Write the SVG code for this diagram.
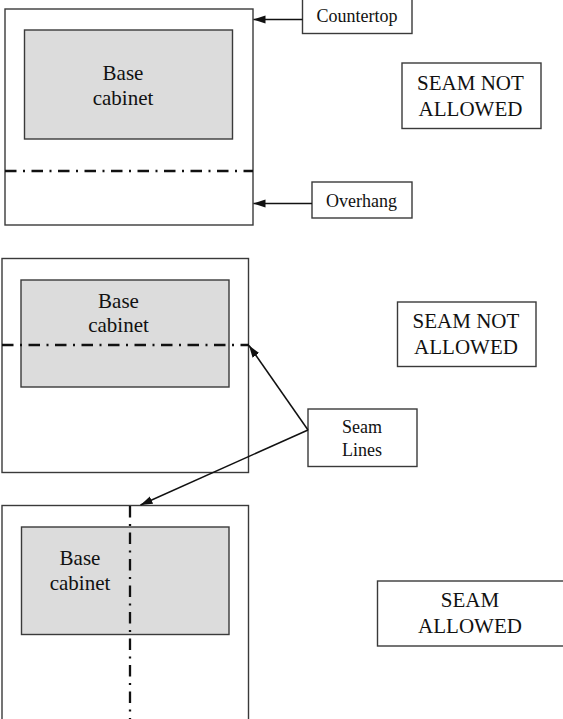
<svg xmlns="http://www.w3.org/2000/svg" width="563" height="719" viewBox="0 0 563 719">
<style>
.outer{fill:#fff;stroke:#3a3a3a;stroke-width:1.4}
.cab{fill:#dcdcdc;stroke:#3a3a3a;stroke-width:1.4}
.box{fill:#fff;stroke:#3a3a3a;stroke-width:1.4}
.seam{fill:none;stroke:#111;stroke-width:2.3;stroke-dasharray:11.5 6.5 2 6.5}
.conn{fill:none;stroke:#111;stroke-width:1.5}
text{font-family:"Liberation Serif","Times New Roman",serif;fill:#111;text-anchor:middle}
.big{font-size:21px}
.small{font-size:18px}
</style>
<defs>
<marker id="ah" markerWidth="13" markerHeight="9" refX="12" refY="4" orient="auto" markerUnits="userSpaceOnUse">
<path d="M0,0 L12,4 L0,8 z" fill="#111"/>
</marker>
</defs>
<g id="panel1">
<rect class="outer" x="5" y="9" width="248" height="216"/>
<rect class="cab" x="24.5" y="30" width="208" height="109"/>
<text class="big" x="123" y="80">Base</text>
<text class="big" x="123" y="105">cabinet</text>
<line class="seam" x1="5" y1="171" x2="253" y2="171"/>
</g>
<g id="panel2">
<rect class="outer" x="2" y="258.5" width="246.5" height="214"/>
<rect class="cab" x="21" y="280" width="208" height="107"/>
<text class="big" x="118.5" y="307.5">Base</text>
<text class="big" x="118.5" y="332">cabinet</text>
<line class="seam" x1="2" y1="345" x2="249" y2="345"/>
</g>
<g id="panel3">
<rect class="outer" x="2" y="505.5" width="246.5" height="230"/>
<rect class="cab" x="21.5" y="527" width="207.5" height="107.5"/>
<text class="big" x="80" y="565">Base</text>
<text class="big" x="80" y="590">cabinet</text>
<line class="seam" x1="130" y1="506" x2="130" y2="719"/>
</g>
<g id="countertop">
<rect class="box" x="302.5" y="-2" width="109.5" height="35.5"/>
<text class="small" x="357" y="22">Countertop</text>
</g>
<g id="overhang">
<rect class="box" x="312" y="182" width="100" height="36"/>
<text class="small" x="361.5" y="207">Overhang</text>
</g>
<g id="seamlines">
<rect class="box" x="308" y="409" width="109" height="57.5"/>
<text class="small" x="362" y="433">Seam</text>
<text class="small" x="362" y="455.5">Lines</text>
</g>
<g id="notallowed1">
<rect class="box" x="402" y="63" width="139" height="65.5"/>
<text class="big" x="470.5" y="90">SEAM NOT</text>
<text class="big" x="470.5" y="115.5">ALLOWED</text>
</g>
<g id="notallowed2">
<rect class="box" x="397.5" y="302" width="138.5" height="64.5"/>
<text class="big" x="466" y="328">SEAM NOT</text>
<text class="big" x="466" y="353.5">ALLOWED</text>
</g>
<g id="allowed">
<rect class="box" x="377.5" y="581" width="190" height="65"/>
<text class="big" x="470" y="607">SEAM</text>
<text class="big" x="470" y="633">ALLOWED</text>
</g>
<g id="connectors">
<line class="conn" x1="302.5" y1="19.5" x2="253.5" y2="19.5" marker-end="url(#ah)"/>
<line class="conn" x1="312" y1="203.5" x2="253.5" y2="203.5" marker-end="url(#ah)"/>
<line class="conn" x1="308" y1="430" x2="249" y2="345.5" marker-end="url(#ah)"/>
<line class="conn" x1="308" y1="430" x2="140.5" y2="505" marker-end="url(#ah)"/>
</g>
</svg>
